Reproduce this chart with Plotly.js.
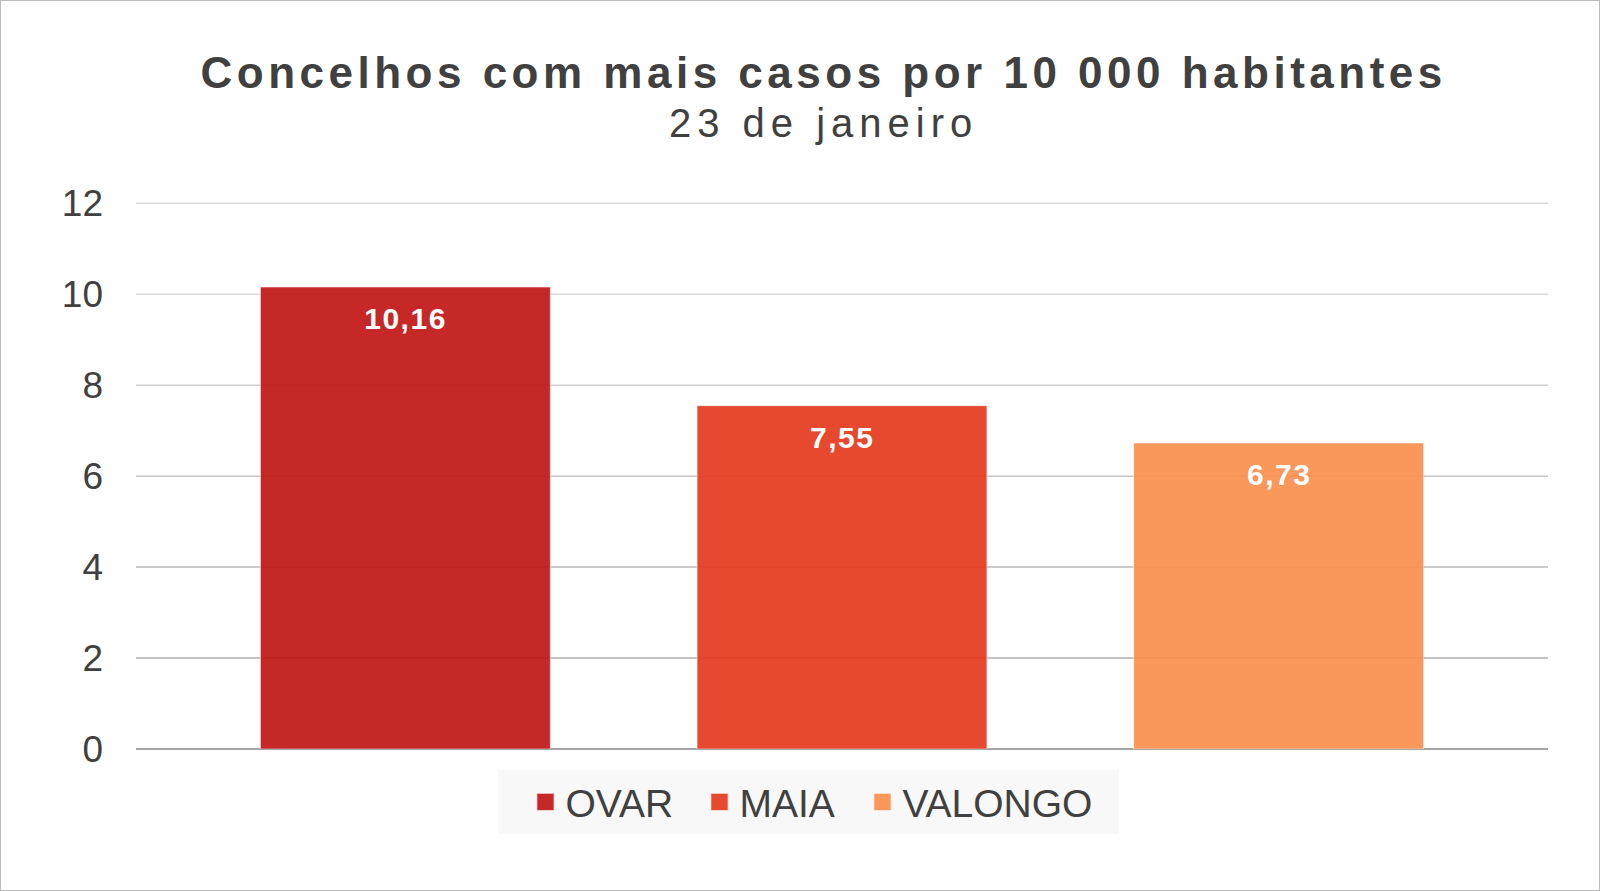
<!DOCTYPE html>
<html>
<head>
<meta charset="utf-8">
<script src="https://cdn.plot.ly/plotly-3.0.1.min.js"></script>
<style>
  html, body { margin: 0; padding: 0; background: #ffffff; }
  #chart { width: 1598px; height: 889px; border: 1px solid #bdbdbd; }
</style>
</head>
<body>
<div id="chart"></div>
<script>
// ---- data ----
const categories = ['OVAR', 'MAIA', 'VALONGO'];
const values = [10.16, 7.55, 6.73];
const yTicks = [0, 2, 4, 6, 8, 10, 12];
const titleText = 'Concelhos com mais casos por 10 000 habitantes';
const subtitleText = '23 de janeiro';

// ---- styles ----
const barColors = ['rgba(193,21,21,0.92)', 'rgba(228,58,27,0.92)', 'rgba(250,142,76,0.92)'];
const gridColors = ['#a4a4a4', '#afafaf', '#bababa', '#c5c5c5', '#d0d0d0', '#d9d9d9', '#d9d9d9'];
const legendWidths = [129, 118, 196];
const FONT = '"Liberation Sans", Arial, sans-serif';
const TEXT = '#404040';
const Y_RANGE = [0, 12.03];

const fmt = v => v.toFixed(2).replace('.', ',');

const traces = categories.map((c, i) => ({
  type: 'bar',
  name: c,
  x: [c],
  y: [values[i]],
  legendwidth: legendWidths[i],
  marker: { color: barColors[i], line: { color: 'rgba(255,255,255,0.55)', width: 1 } },
  hoverinfo: 'skip'
}));

const labelAnns = categories.map((c, i) => ({
  x: c, y: values[i], xref: 'x', yref: 'y',
  text: '<b>' + fmt(values[i]) + '</b>',
  showarrow: false, yanchor: 'top', yshift: -13,
  font: { family: FONT, size: 30, color: '#ffffff' }
}));

const titleAnns = [
  { xref: 'paper', yref: 'paper', x: 0.487, y: 1.237, xanchor: 'center', yanchor: 'middle',
    text: '<b>' + titleText + '</b>', showarrow: false,
    font: { family: FONT, size: 44, color: TEXT } },
  { xref: 'paper', yref: 'paper', x: 0.487, y: 1.1445, xanchor: 'center', yanchor: 'middle',
    text: subtitleText, showarrow: false,
    font: { family: FONT, size: 40, color: TEXT } }
];

// gridlines, each with its own shade (lighter towards the top)
const gridShapes = yTicks.slice(1).map(v => ({
  type: 'line', layer: 'below', xref: 'paper', x0: 0, x1: 1, yref: 'y', y0: v, y1: v,
  line: { color: gridColors[yTicks.indexOf(v)], width: 1.5 }
}));

const layout = {
  width: 1598, height: 889,
  margin: { l: 135, r: 51, t: 201, b: 141, pad: 0 },
  paper_bgcolor: '#ffffff', plot_bgcolor: '#ffffff',
  font: { family: FONT, color: TEXT },
  barmode: 'overlay',
  bargap: 0.336,
  showlegend: true,
  legend: {
    orientation: 'h', x: 0.4805, xanchor: 'center', y: -0.097, yanchor: 'middle',
    bgcolor: '#f8f8f8', font: { family: FONT, size: 39, color: TEXT },
    itemclick: false, itemdoubleclick: false, traceorder: 'normal'
  },
  xaxis: {
    type: 'category', categoryorder: 'array', categoryarray: categories,
    range: [-0.617, categories.length - 1 + 0.617],
    showticklabels: false, showgrid: false, zeroline: false, showline: false, ticks: ''
  },
  yaxis: {
    range: Y_RANGE, tickvals: yTicks, ticktext: yTicks.map(String),
    showgrid: false,
    zeroline: true, zerolinecolor: gridColors[0], zerolinewidth: 1.5,
    showline: false, ticks: '', ticklabelstandoff: 32,
    tickfont: { family: FONT, size: 37, color: TEXT }
  },
  shapes: gridShapes,
  annotations: titleAnns.concat(labelAnns)
};

Plotly.newPlot('chart', traces, layout, { staticPlot: true, displayModeBar: false }).then(gd => {
  const texts = gd.querySelectorAll('.annotation-text');
  if (texts[0]) texts[0].style.letterSpacing = '4.5px';
  if (texts[1]) texts[1].style.letterSpacing = '6px';
  for (let i = 2; i < texts.length; i++) texts[i].style.letterSpacing = '1.5px';
  gd.querySelectorAll('.legendpoints path').forEach(p => {
    const t = p.getAttribute('transform') || '';
    p.setAttribute('transform', t + ' scale(1.45)');
  });
  // wider padding around the legend box, as in the original
  const bg = gd.querySelector('.legend rect.bg');
  if (bg) {
    const x = parseFloat(bg.getAttribute('x') || '0');
    const w = parseFloat(bg.getAttribute('width') || '0');
    bg.setAttribute('x', x - 27);
    bg.setAttribute('width', w + 43);
  }
});
</script>
</body>
</html>
